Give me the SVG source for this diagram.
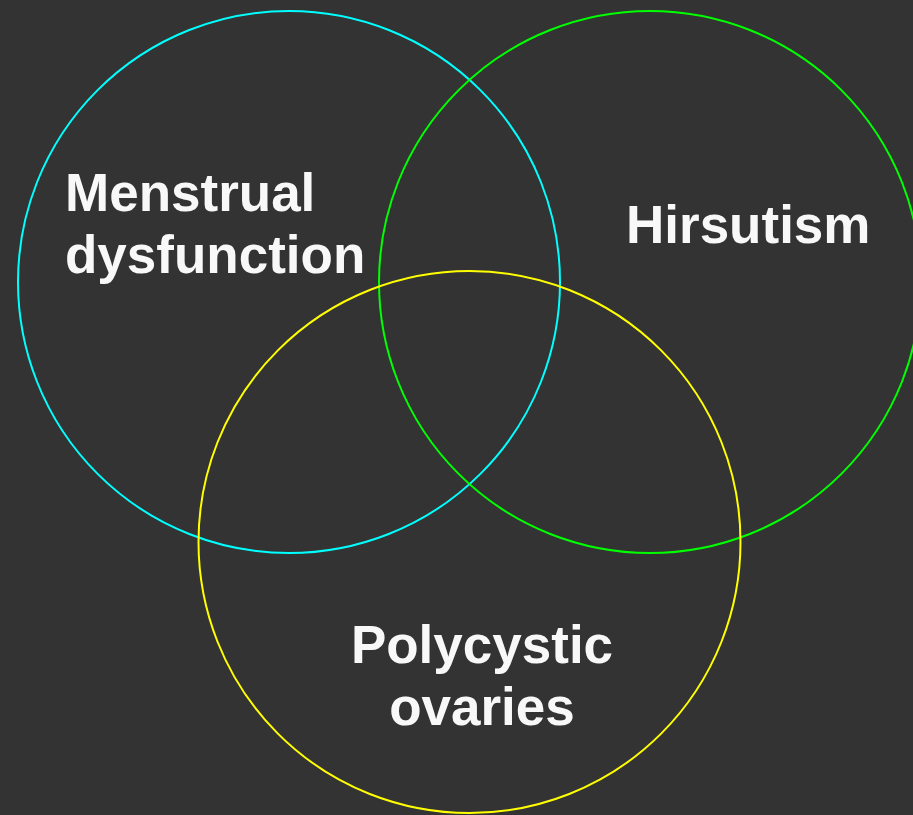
<svg xmlns="http://www.w3.org/2000/svg" width="913" height="815" viewBox="0 0 913 815">
<style>
.c{fill:none;stroke-width:2}
.t{font-family:"Liberation Sans",Arial,sans-serif;font-weight:bold;font-size:53px;fill:#f8f8f8}
</style>
<rect width="913" height="815" fill="#333333"/>
<g id="menstrual">
<circle class="c" cx="289" cy="282" r="271" stroke="#00ffff"/>
<text class="t" x="65" y="211">Menstrual</text>
<text class="t" x="65" y="273">dysfunction</text>
</g>
<g id="hirsutism">
<circle class="c" cx="650" cy="282" r="271" stroke="#00ff00"/>
<text class="t" x="626" y="243">Hirsutism</text>
</g>
<g id="polycystic">
<circle class="c" cx="469.5" cy="542" r="271" stroke="#ffff00"/>
<text class="t" x="482" y="663" text-anchor="middle">Polycystic</text>
<text class="t" x="482" y="725" text-anchor="middle">ovaries</text>
</g>
<g id="connectors"/>
</svg>
